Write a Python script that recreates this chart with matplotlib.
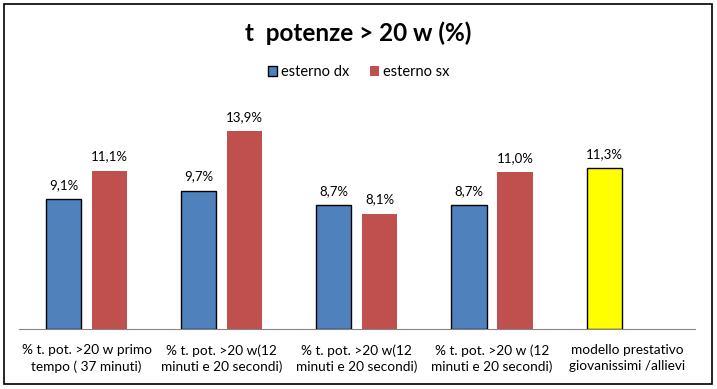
import numpy as np
import matplotlib
matplotlib.use("Agg")
import matplotlib.pyplot as plt
from matplotlib.patches import Rectangle

plt.rcParams['font.family'] = ['Lato', 'DejaVu Sans']

categories = ["% t. pot. >20 w primo\ntempo ( 37 minuti)",
              "% t. pot. >20 w(12\nminuti e 20 secondi)",
              "% t. pot. >20 w(12\nminuti e 20 secondi)",
              "% t. pot. >20 w (12\nminuti e 20 secondi)",
              "modello prestativo\ngiovanissimi /allievi"]
esterno_dx = [9.1, 9.7, 8.7, 8.7, 11.3]
esterno_sx = [11.1, 13.9, 8.1, 11.0, np.nan]
dx_colors = ['#4F81BD', '#4F81BD', '#4F81BD', '#4F81BD', '#FFFF00']

fig = plt.figure(figsize=(7.17, 3.89), dpi=100)
ax = fig.add_axes([0.0265, 0.154, 0.9425, 0.586])

x = np.arange(len(categories))
w = 0.26
ax.bar(x - 0.17, esterno_dx, width=w, color=dx_colors, edgecolor='black', linewidth=1.0, label='esterno dx')
ax.bar(x + 0.17, esterno_sx, width=w, color='#C0504D', label='esterno sx')

# value labels
for xi, v in zip(x, esterno_dx):
    ax.annotate(f"{v:.1f}%".replace('.', ','), (xi - 0.17, v), xytext=(0, 6),
                textcoords='offset points', ha='center', va='bottom', fontsize=9.5)
for xi, v in zip(x, esterno_sx):
    if np.isnan(v):
        continue
    ax.annotate(f"{v:.1f}%".replace('.', ','), (xi + 0.17, v), xytext=(0, 6),
                textcoords='offset points', ha='center', va='bottom', fontsize=9.5)

ax.set_xlim(-0.5, 4.5)
ax.set_ylim(0, 16)
ax.set_xticks(x)
ax.set_xticklabels(categories, fontsize=9.8, linespacing=1.35)
ax.tick_params(axis='x', length=0, pad=11)
ax.set_yticks([])
for s in ['left', 'right', 'top']:
    ax.spines[s].set_visible(False)
ax.spines['bottom'].set_color('#868686')

fig.text(0.5, 0.915, "t  potenze > 20 w (%)", ha='center', va='center',
         fontsize=17.5, fontweight='bold')
fig.legend(loc='center', bbox_to_anchor=(0.5, 0.815), ncol=2, frameon=False,
           fontsize=10.5, handlelength=0.65, handleheight=0.65, handletextpad=0.25,
           columnspacing=1.4)

fig.patches.append(Rectangle((4 / 717, 5 / 389), 708 / 717, 380 / 389,
                             transform=fig.transFigure, fill=False,
                             edgecolor='black', linewidth=1.2))

fig.savefig("out.png", dpi=100)
